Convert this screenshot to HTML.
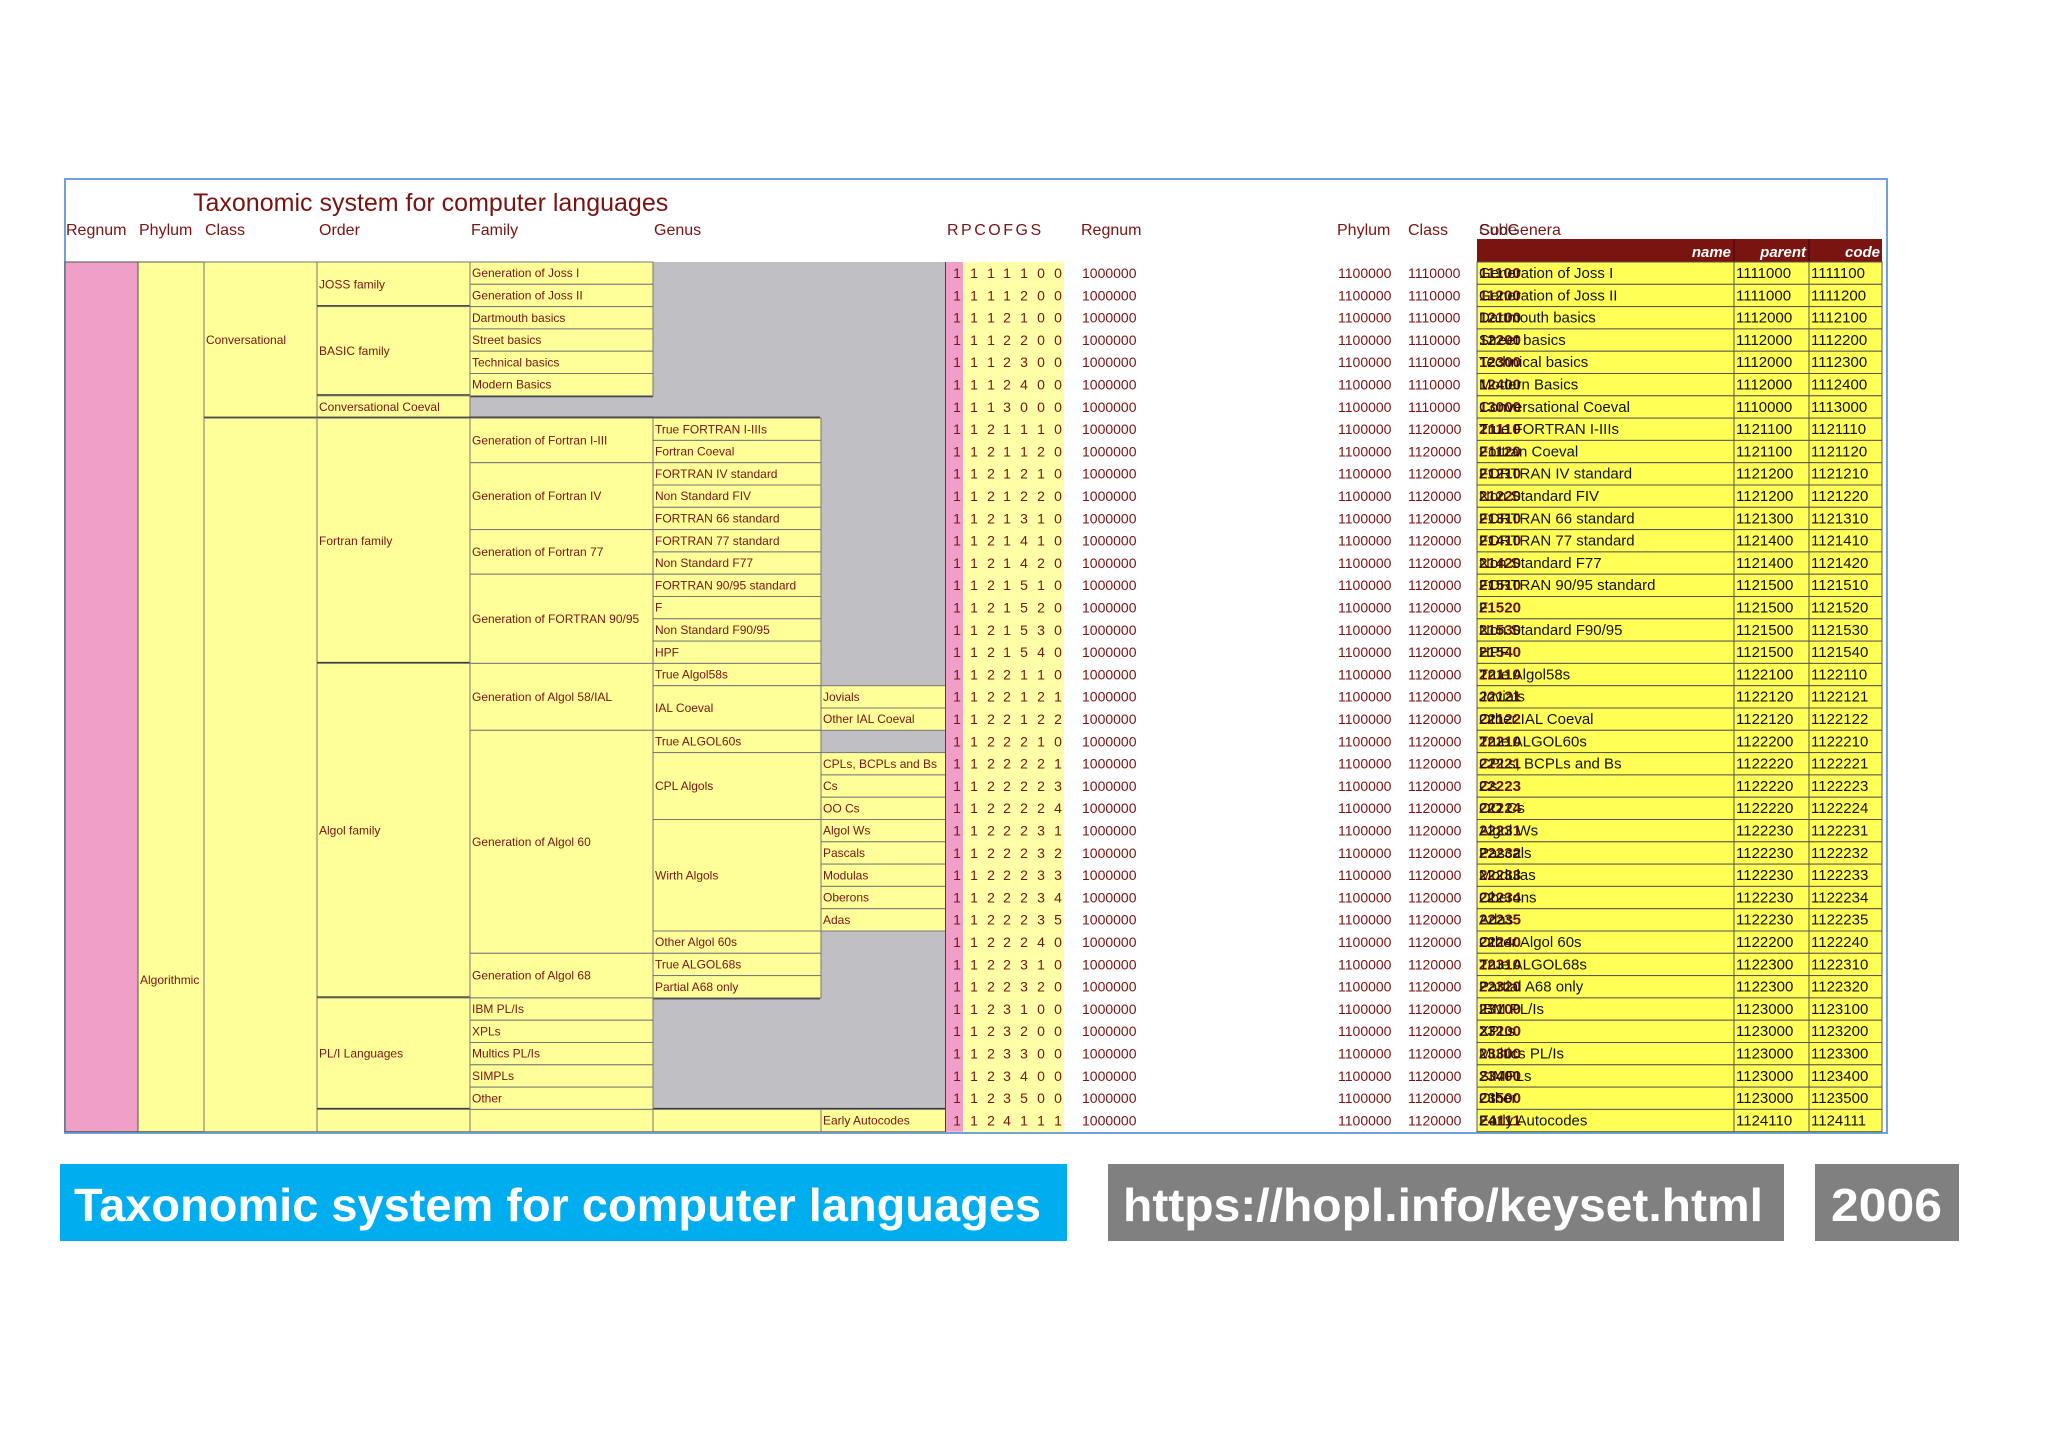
<!DOCTYPE html>
<html><head><meta charset="utf-8"><style>
html,body{margin:0;padding:0;background:#fff;}
svg{display:block;}
text{font-family:"Liberation Sans",sans-serif;}
</style></head><body>
<svg id="chart" width="2048" height="1448" viewBox="0 0 2048 1448" xmlns="http://www.w3.org/2000/svg">
<rect x="0" y="0" width="2048" height="1448" fill="#fff"/>
<rect x="65" y="179" width="1822" height="954" fill="#fff" stroke="#6fa3d8" stroke-width="2"/>
<text x="193" y="211" font-size="25" fill="#7a1212">Taxonomic system for computer languages</text>
<g font-size="16" fill="#7a1212">
<text x="66" y="235">Regnum</text><text x="139" y="235">Phylum</text><text x="205" y="235">Class</text>
<text x="319" y="235">Order</text><text x="471" y="235">Family</text><text x="654" y="235">Genus</text>
<text x="947" y="235" letter-spacing="2.5">RPCOFGS</text><text x="1081" y="235">Regnum</text>
<text x="1337" y="235">Phylum</text><text x="1408" y="235">Class</text>
<text x="1479" y="235">SubGenera</text><text x="1479" y="235" fill="#3a0a0a" opacity="0.7">Code</text>
</g>
<g>
<rect x="1477" y="239" width="405" height="23" fill="#7a1410"/>
<line x1="1734" y1="239" x2="1734" y2="262" stroke="#3a0808"/><line x1="1809" y1="239" x2="1809" y2="262" stroke="#3a0808"/>
<text x="1731" y="257" text-anchor="end" font-size="15" font-weight="bold" font-style="italic" fill="#fff">name</text>
<text x="1806" y="257" text-anchor="end" font-size="15" font-weight="bold" font-style="italic" fill="#fff">parent</text>
<text x="1880" y="257" text-anchor="end" font-size="15" font-weight="bold" font-style="italic" fill="#fff">code</text>
</g>
<g id="grid"></g>
<g>
<rect x="60" y="1164" width="1007" height="77" fill="#00aeef"/>
<text x="74" y="1221" font-family="DejaVu Sans" font-weight="bold" font-size="46" fill="#fff" textLength="967" lengthAdjust="spacingAndGlyphs">Taxonomic system for computer languages</text>
<rect x="1108" y="1164" width="676" height="77" fill="#808080"/>
<text x="1123" y="1221" font-family="DejaVu Sans" font-weight="bold" font-size="46" fill="#fff" textLength="640" lengthAdjust="spacingAndGlyphs">https://hopl.info/keyset.html</text>
<rect x="1815" y="1164" width="144" height="77" fill="#808080"/>
<text x="1831" y="1221" font-family="DejaVu Sans" font-weight="bold" font-size="46" fill="#fff" textLength="111" lengthAdjust="spacingAndGlyphs">2006</text>
</g>
</svg>
<script>
const codes=["1111100","1111200","1112100","1112200","1112300","1112400","1113000","1121110","1121120","1121210","1121220","1121310","1121410","1121420","1121510","1121520","1121530","1121540","1122110","1122121","1122122","1122210","1122221","1122223","1122224","1122231","1122232","1122233","1122234","1122235","1122240","1122310","1122320","1123100","1123200","1123300","1123400","1123500","1124111"];
const parents=["1111000","1111000","1112000","1112000","1112000","1112000","1110000","1121100","1121100","1121200","1121200","1121300","1121400","1121400","1121500","1121500","1121500","1121500","1122100","1122120","1122120","1122200","1122220","1122220","1122220","1122230","1122230","1122230","1122230","1122230","1122200","1122300","1122300","1123000","1123000","1123000","1123000","1123000","1124110"];
const names=["Generation of Joss I","Generation of Joss II","Dartmouth basics","Street basics","Technical basics","Modern Basics","Conversational Coeval","True FORTRAN I-IIIs","Fortran Coeval","FORTRAN IV standard","Non Standard FIV","FORTRAN 66 standard","FORTRAN 77 standard","Non Standard F77","FORTRAN 90/95 standard","F","Non Standard F90/95","HPF","True Algol58s","Jovials","Other IAL Coeval","True ALGOL60s","CPLs, BCPLs and Bs","Cs","OO Cs","Algol Ws","Pascals","Modulas","Oberons","Adas","Other Algol 60s","True ALGOL68s","Partial A68 only","IBM PL/Is","XPLs","Multics PL/Is","SIMPLs","Other","Early Autocodes"];
const classSpans=[[0,6,"Conversational"],[7,38,""]];
const orderSpans=[[0,1,"JOSS family"],[2,5,"BASIC family"],[6,6,"Conversational Coeval"],[7,17,"Fortran family"],[18,32,"Algol family"],[33,37,"PL/I Languages"],[38,38,""]];
const familySpans=[[0,0,"Generation of Joss I"],[1,1,"Generation of Joss II"],[2,2,"Dartmouth basics"],[3,3,"Street basics"],[4,4,"Technical basics"],[5,5,"Modern Basics"],[7,8,"Generation of Fortran I-III"],[9,11,"Generation of Fortran IV"],[12,13,"Generation of Fortran 77"],[14,17,"Generation of FORTRAN 90/95"],[18,20,"Generation of Algol 58/IAL"],[21,30,"Generation of Algol 60"],[31,32,"Generation of Algol 68"],[33,33,"IBM PL/Is"],[34,34,"XPLs"],[35,35,"Multics PL/Is"],[36,36,"SIMPLs"],[37,37,"Other"],[38,38,""]];
const genusSpans=[[7,7,"True FORTRAN I-IIIs"],[8,8,"Fortran Coeval"],[9,9,"FORTRAN IV standard"],[10,10,"Non Standard FIV"],[11,11,"FORTRAN 66 standard"],[12,12,"FORTRAN 77 standard"],[13,13,"Non Standard F77"],[14,14,"FORTRAN 90/95 standard"],[15,15,"F"],[16,16,"Non Standard F90/95"],[17,17,"HPF"],[18,18,"True Algol58s"],[19,20,"IAL Coeval"],[21,21,"True ALGOL60s"],[22,24,"CPL Algols"],[25,29,"Wirth Algols"],[30,30,"Other Algol 60s"],[31,31,"True ALGOL68s"],[32,32,"Partial A68 only"],[38,38,""]];
const subSpans=[[19,19,"Jovials"],[20,20,"Other IAL Coeval"],[22,22,"CPLs, BCPLs and Bs"],[23,23,"Cs"],[24,24,"OO Cs"],[25,25,"Algol Ws"],[26,26,"Pascals"],[27,27,"Modulas"],[28,28,"Oberons"],[29,29,"Adas"],[38,38,"Early Autocodes"]];

const NS="http://www.w3.org/2000/svg";
const g=document.getElementById('grid');
const TOP=262,RH=22.3,N=codes.length;
const ry=i=>TOP+i*RH;
const red="#7a1212",pale="#ffff99",gray="#c0c0c4";
function mk(tag,at,parent){const e=document.createElementNS(NS,tag);for(const k in at)e.setAttribute(k,at[k]);(parent||g).appendChild(e);return e;}

let r=mk('rect',{x:65,y:TOP,width:73,height:N*RH,fill:'#f0a0c8',stroke:'#555'});


r=mk('rect',{x:138,y:TOP,width:66,height:N*RH,fill:pale,stroke:'#555'});


let t=mk('text',{x:140,y:984,'font-size':12,fill:red});t.textContent="Algorithmic";


r=mk('rect',{x:470,y:TOP,width:476,height:(N-1)*RH,fill:gray});



function spans(list,x0,x1,name,thick){
  list.forEach(s=>{
    const y0=ry(s[0]),h=(s[1]-s[0]+1)*RH;
    const c=mk('rect',{x:x0,y:y0,width:x1-x0,height:h,fill:pale,stroke:'#777','stroke-width':1});
    
    
    if(s[2]){const tx=mk('text',{x:x0+2,y:y0+h/2+4,'font-size':12,fill:red});tx.textContent=s[2];
      
      }
    if(thick && s[1]<38){const l=mk('line',{x1:x0,x2:thick(s),y1:y0+h,y2:y0+h,stroke:'#333','stroke-width':3});
      
      }
  });
}
spans(classSpans,204,317,'class',s=>820);
spans(orderSpans,317,470,'order',s=>s[1]<37?(s[1]<7?653:820):946);
spans(familySpans,470,653,'family');
spans(genusSpans,653,821,'genus');
spans(subSpans,821,946,'subgenus');
r=mk('line',{x1:946,x2:946,y1:TOP,y2:TOP+N*RH,stroke:'#444','stroke-width':2});


r=mk('rect',{x:946,y:TOP,width:17,height:N*RH,fill:'#f0a0c8'});


r=mk('rect',{x:963,y:TOP,width:101,height:N*RH,fill:'#ffffa8'});



const digitX=[957,974,991,1007,1024,1041,1058];
for(let i=0;i<N;i++){
  const y0=ry(i),by=y0+16;
  for(let d=0;d<7;d++){const tx=mk('text',{x:digitX[d],y:by,'font-size':14,fill:red,'text-anchor':'middle'});tx.textContent=codes[i][d];
    
    }
  const reg=mk('text',{x:1082,y:by,'font-size':14,fill:red});reg.textContent="1000000";
  
  
  const ph=mk('text',{x:1338,y:by,'font-size':14,fill:red});ph.textContent=codes[i].slice(0,2)+"00000";
  
  
  const cl=mk('text',{x:1408,y:by,'font-size':14,fill:red});cl.textContent=codes[i].slice(0,3)+"0000";
  
  
  const cell=mk('rect',{x:1477,y:y0,width:405,height:RH,fill:'#ffff55',stroke:'#555','stroke-width':1});
  
  
  mk('line',{x1:1734,x2:1734,y1:y0,y2:y0+RH,stroke:'#555'});
  mk('line',{x1:1809,x2:1809,y1:y0,y2:y0+RH,stroke:'#555'});
  const ov=mk('text',{x:1479,y:by,'font-size':15,'font-weight':'bold',fill:'#6a1008',textLength:42,lengthAdjust:'spacingAndGlyphs'});ov.textContent=codes[i].slice(2);
  
  
  const nm=mk('text',{x:1479,y:by,'font-size':15,fill:'#111'});nm.textContent=names[i];
  
  
  const pa=mk('text',{x:1736,y:by,'font-size':15,fill:'#111'});pa.textContent=parents[i];
  
  
  const co=mk('text',{x:1811,y:by,'font-size':15,fill:'#111'});co.textContent=codes[i];
  
  
}
</script>
</body></html>
